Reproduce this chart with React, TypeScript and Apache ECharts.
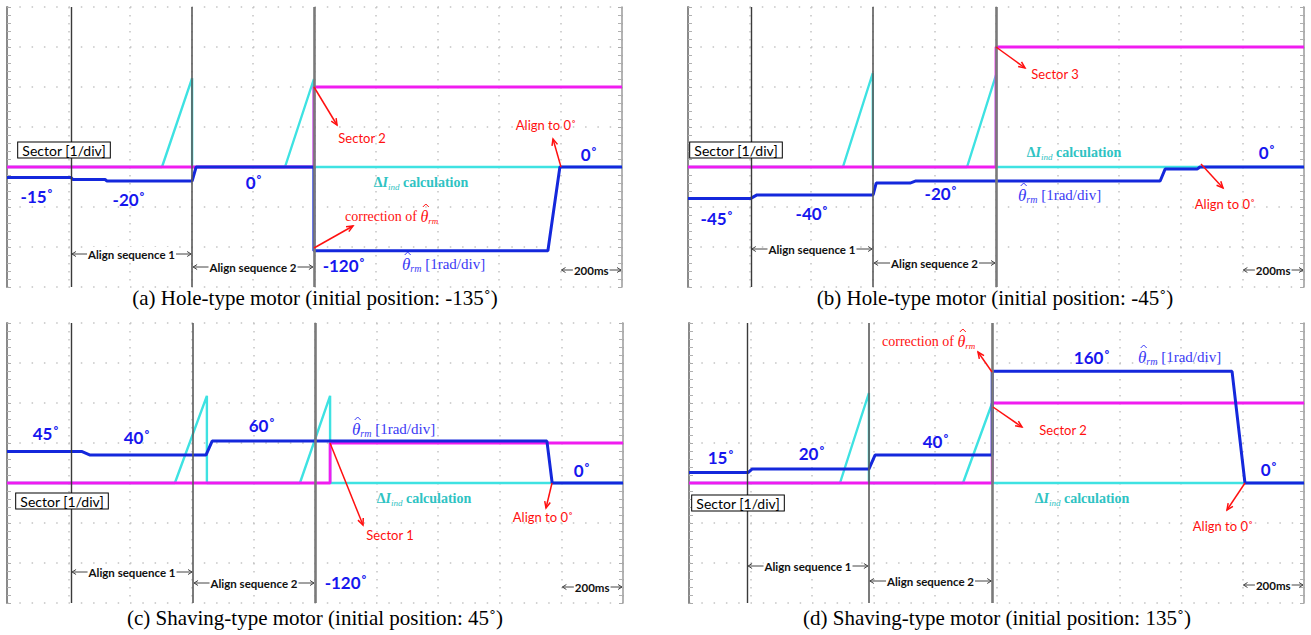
import React, { useEffect, useRef } from "react";
import * as echarts from "echarts";

// ---- scope settings ----
const TIME_SPAN_MS = 2000; // 10 div x 200 ms
const TIME_DIV_MS = 200;
const DIV_BOTTOM = -3;
const DIV_TOP = 4;
const RAD_PER_DIV = 1;

const captions = [
  "(a) Hole-type motor (initial position: -135˚)",
  "(b) Hole-type motor (initial position: -45˚)",
  "(c) Shaving-type motor (initial position: 45˚)",
  "(d) Shaving-type motor (initial position: 135˚)",
];

// cursor markers [ms]
const cursorsA = [208, 602, 998];
const cursorsB = [204, 601, 1000];
const cursorsC = [208, 604, 1000];
const cursorsD = [189, 585, 986];

// Sector trace [1/div]
const sectorA = [[0, 0], [998, 0], [998, 2], [2000, 2]];
const sectorB = [[0, 0], [1000, 0], [1000, 3], [2000, 3]];
const sectorC = [[0, 0], [1049, 0], [1049, 1], [2000, 1]];
const sectorD = [[0, 0], [986, 0], [986, 2], [2000, 2]];

// ΔI_ind calculation trace [div]
const deltaIA = [[0, 0], [504, 0], [602, 2.22], [602, 0], [904, 0], [998, 2.2], [998, 0], [2000, 0]];
const deltaIB = [[0, 0], [503, 0], [600, 2.35], [600, 0], [906, 0], [1000, 2.3], [1000, 0], [2000, 0]];
const deltaIC = [[0, 0], [545, 0], [649, 2.18], [649, 0], [951, 0], [1049, 2.18], [1049, 0], [2000, 0]];
const deltaID = [[0, 0], [491, 0], [585, 2.25], [585, 0], [891, 0], [986, 2.0], [986, 0], [2000, 0]];

// estimated rotor position trace [deg], shown at 1 rad/div
const thetaA = [[0, -15], [208, -15], [214, -18], [319, -18], [325, -20], [602, -20], [615, 0], [998, 0], [998, -120], [1759, -120], [1798, 0], [2000, 0]];
const thetaB = [[0, -45], [204, -45], [224, -40], [601, -40], [611, -23], [721, -23], [740, -20], [1533, -20], [1549, -3], [1653, -3], [1662, 0], [2000, 0]];
const thetaC = [[0, 45], [244, 45], [270, 40], [646, 40], [666, 60], [1753, 60], [1770, 0], [2000, 0]];
const thetaD = [[0, 15], [192, 15], [205, 20], [585, 20], [605, 40], [986, 40], [986, 160], [1766, 160], [1808, 0], [2000, 0]];

const cursors = [cursorsA, cursorsB, cursorsC, cursorsD];
const sectors = [sectorA, sectorB, sectorC, sectorD];
const deltaIs = [deltaIA, deltaIB, deltaIC, deltaID];
const thetas = [thetaA, thetaB, thetaC, thetaD];

// ---- layout ----
const PANELS = [
  { left: 7, top: 7, width: 615, height: 280, capX: 315, capY: 298, seqY: [254, 267], msY: 270 },
  { left: 688, top: 7, width: 616, height: 280, capX: 995, capY: 298, seqY: [249, 263], msY: 270 },
  { left: 7, top: 323, width: 616, height: 280, capX: 315, capY: 618, seqY: [572, 583], msY: 587 },
  { left: 689, top: 323, width: 615, height: 280, capX: 997, capY: 618, seqY: [566, 581], msY: 585 },
];

const C_CYAN = "#3ee2e2";
const C_MAG = "#f01cf0";
const C_BLUE = "#1428dc";
const C_BLUE_TXT = "#1616ee";
const C_THETA_TXT = "#3a3af5";
const C_RED = "#ff1010";
const C_TEAL_TXT = "#2fc3c3";
const SANS = "Lato, 'Open Sans', sans-serif";
const SERIF = "'Liberation Serif', 'DejaVu Serif', serif";

// degree value labels [panel, text, cx, cy]
const degreeLabels: [number, string, number, number][] = [
  [0, "-15˚", 37, 196], [0, "-20˚", 129, 199], [0, "0˚", 254, 182], [0, "-120˚", 344, 265], [0, "0˚", 589, 154],
  [1, "-45˚", 717, 218], [1, "-40˚", 812, 213], [1, "-20˚", 941, 193], [1, "0˚", 1267, 152],
  [2, "45˚", 46, 433], [2, "40˚", 137, 437], [2, "60˚", 262, 425], [2, "0˚", 582, 470], [2, "-120˚", 346, 582],
  [3, "15˚", 721, 457], [3, "20˚", 812, 453], [3, "40˚", 936, 441], [3, "160˚", 1092, 357], [3, "0˚", 1269, 469],
];

const sectorBoxes: [number, number][] = [[64, 150], [736, 150], [62, 501], [738, 503]];
// left edge, centre line
const thetaLabels: [number, number][] = [[402, 264], [1018, 195], [352, 429], [1138, 357]];
const deltaLabels: [number, number][] = [[421, 182], [1074, 152], [424, 498], [1082, 498]];
const correctionLabels: [number, number][] = [[345, 216], [882, 341]];

// red callouts: text, text centre, arrow from, arrow to
const callouts: [string, number, number, number, number, number, number][] = [
  ["Sector 2", 362, 138, 314, 87, 337, 125],
  ["Align to 0˚", 546, 125, 561, 167, 553, 139],
  ["Sector 3", 1055, 74, 996, 47, 1025, 68],
  ["Align to 0˚", 1225, 204, 1201, 164, 1223, 188],
  ["Sector 1", 390, 535, 330, 443, 363, 525],
  ["Align to 0˚", 543, 517, 552, 483, 546, 508],
  ["Sector 2", 1063, 430, 993, 407, 1022, 427],
  ["Align to 0˚", 1223, 526, 1245, 483, 1227, 510],
];
const correctionArrows: [number, number, number, number][] = [
  [314, 248, 353, 226],
  [992, 372, 978, 352],
];

let measureCtx: CanvasRenderingContext2D | null = null;
function measure(text: string, font: string) {
  if (!measureCtx) measureCtx = document.createElement("canvas").getContext("2d");
  if (!measureCtx) return text.length * 7;
  measureCtx.font = font;
  return measureCtx.measureText(text).width;
}

function arrow(x1: number, y1: number, x2: number, y2: number, color: string, w = 1.5, head = 7) {
  const ang = Math.atan2(y2 - y1, x2 - x1);
  const a1 = ang + Math.PI - 0.42;
  const a2 = ang + Math.PI + 0.42;
  return [
    { type: "line", z: 50, shape: { x1, y1, x2, y2 }, style: { stroke: color, lineWidth: w } },
    {
      type: "polyline",
      z: 50,
      shape: {
        points: [
          [x2 + head * Math.cos(a1), y2 + head * Math.sin(a1)],
          [x2, y2],
          [x2 + head * Math.cos(a2), y2 + head * Math.sin(a2)],
        ],
      },
      style: { stroke: color, lineWidth: w, fill: null },
    },
  ];
}

function span(x1: number, x2: number, y: number, label: string) {
  const col = "#444";
  const h = 4;
  const a = x1 + 1;
  const b = x2 - 1;
  return [
    { type: "line", z: 40, shape: { x1: a, y1: y, x2: b, y2: y }, style: { stroke: col, lineWidth: 1 } },
    { type: "polyline", z: 40, shape: { points: [[a + h, y - 2.5], [a, y], [a + h, y + 2.5]] }, style: { stroke: col, lineWidth: 1, fill: null } },
    { type: "polyline", z: 40, shape: { points: [[b - h, y - 2.5], [b, y], [b - h, y + 2.5]] }, style: { stroke: col, lineWidth: 1, fill: null } },
    {
      type: "text",
      z: 41,
      x: (a + b) / 2,
      y,
      style: {
        text: label, fontFamily: SANS, fontSize: 11.5, fontWeight: "bold", fill: "#111",
        align: "center", verticalAlign: "middle", backgroundColor: "#fff", padding: [1, 1],
      },
    },
  ];
}

function centered(x: number, y: number, style: any) {
  return { type: "text", z: 60, x, y, style: { align: "center", verticalAlign: "middle", ...style } };
}

// θ̂_rm with an optional lead-in text and trailing text, laid out from a left edge
function thetaHat(left: number, y: number, size: number, color: string, lead: string, tail: string) {
  const leadW = lead ? measure(lead, `${size}px 'Liberation Serif'`) : 0;
  const thW = measure("θ", `italic ${size + 2}px 'Liberation Serif'`);
  const rich = {
    n: { fontFamily: SERIF, fontSize: size, fill: color, lineHeight: 18, verticalAlign: "middle" },
    t: { fontFamily: SERIF, fontStyle: "italic", fontSize: size + 2, fill: color, lineHeight: 18, verticalAlign: "middle" },
    s: { fontFamily: SERIF, fontStyle: "italic", fontSize: size - 5, fill: color, lineHeight: 10, verticalAlign: "bottom" },
  };
  const text = (lead ? `{n|${lead}}` : "") + "{t|θ}{s|rm}" + (tail ? `{n|${tail}}` : "");
  const cx = left + leadW + thW / 2 + 1.5;
  return [
    { type: "text", z: 60, x: left, y, style: { text, rich, align: "left", verticalAlign: "middle" } },
    {
      type: "polyline", z: 61,
      shape: { points: [[cx - 3, y - 9], [cx, y - 12], [cx + 3, y - 9]] },
      style: { stroke: color, lineWidth: 1, fill: null },
    },
  ];
}

export default function App() {
  const ref = useRef<HTMLDivElement>(null);

  useEffect(() => {
    if (!ref.current) return;
    const chart = echarts.init(ref.current, undefined, { renderer: "svg" });
    const toDiv = (deg: number) => (deg * Math.PI) / 180 / RAD_PER_DIV;

    const grid: any[] = [];
    const xAxis: any[] = [];
    const yAxis: any[] = [];
    const series: any[] = [];
    const cursorStyles = [
      { color: "#3a3a3a", width: 1.4 },
      { color: "#5a5a5a", width: 1.6 },
      { color: "#7a7a7a", width: 2.6 },
    ];

    PANELS.forEach((p, i) => {
      grid.push({ left: p.left, top: p.top, width: p.width, height: p.height, containLabel: false });
      xAxis.push({
        gridIndex: i, type: "value", min: 0, max: TIME_SPAN_MS, interval: TIME_DIV_MS,
        axisLine: { show: false }, axisTick: { show: false }, axisLabel: { show: false },
        splitLine: { show: true, lineStyle: { color: "#c4c4c4", width: 1.5, type: [1.5, 6.5] } },
      });
      const yBase = {
        gridIndex: i, type: "value", min: DIV_BOTTOM, max: DIV_TOP, interval: 1,
        axisLabel: { show: false },
        axisTick: { show: true, inside: true, length: 4, lineStyle: { color: "#aaa" } },
        minorTick: { show: true, splitNumber: 5, length: 4, lineStyle: { color: "#b0b0b0" } },
      };
      yAxis.push({
        ...yBase, position: "left",
        axisLine: { show: true, onZero: false, lineStyle: { color: "#8a8a8a", width: 2 } },
        splitLine: { show: true, lineStyle: { color: "#c4c4c4", width: 1.5, type: [1.5, 10.8] } },
      });
      yAxis.push({
        ...yBase, position: "right",
        axisLine: { show: true, onZero: false, lineStyle: { color: "#9a9a9a", width: 1.5 } },
        splitLine: { show: false },
      });

      series.push({
        type: "line", name: "ΔI_ind", xAxisIndex: i, yAxisIndex: 2 * i,
        data: deltaIs[i], showSymbol: false, symbol: "none",
        lineStyle: { color: C_CYAN, width: 2.4 }, z: 2,
        markLine: {
          silent: true, symbol: ["none", "none"], label: { show: false },
          data: cursors[i].map((c, k) => ({ xAxis: c, lineStyle: { type: "solid", ...cursorStyles[k] } })),
        },
      });
      series.push({
        type: "line", name: "Sector", xAxisIndex: i, yAxisIndex: 2 * i,
        data: sectors[i], showSymbol: false, symbol: "none",
        lineStyle: { color: C_MAG, width: 2.8 }, z: 3,
      });
      series.push({
        type: "line", name: "theta", xAxisIndex: i, yAxisIndex: 2 * i,
        data: thetas[i].map(([t, d]) => [t, toDiv(d)]), showSymbol: false, symbol: "none",
        lineStyle: { color: C_BLUE, width: 3 }, z: 4,
      });
    });

    chart.setOption({ animation: false, backgroundColor: "#fff", grid, xAxis, yAxis, series });

    const xPx = (i: number, v: number) => chart.convertToPixel({ xAxisIndex: i } as any, v) as number;
    const graphics: any[] = [];

    PANELS.forEach((p, i) => {
      const c = cursors[i];
      graphics.push(...span(xPx(i, c[0]), xPx(i, c[1]), p.seqY[0], "Align sequence 1"));
      graphics.push(...span(xPx(i, c[1]), xPx(i, c[2]), p.seqY[1], "Align sequence 2"));
      graphics.push(...span(xPx(i, TIME_SPAN_MS - TIME_DIV_MS), xPx(i, TIME_SPAN_MS), p.msY, "200ms"));
      graphics.push(centered(p.capX, p.capY, { text: captions[i], fontFamily: SERIF, fontSize: 21, fill: "#000" }));
    });

    sectorBoxes.forEach(([x, y]) =>
      graphics.push(centered(x, y, {
        text: "Sector [1/div]", fontFamily: SANS, fontSize: 14, fill: "#000",
        backgroundColor: "#fff", borderColor: "#000", borderWidth: 1, padding: [1, 4, 0, 4],
      }))
    );

    degreeLabels.forEach(([, t, x, y]) =>
      graphics.push(centered(x, y, { text: t, fontFamily: SANS, fontSize: 17, fontWeight: "bold", fill: C_BLUE_TXT }))
    );

    thetaLabels.forEach(([x, y]) => graphics.push(...thetaHat(x, y, 15, C_THETA_TXT, "", " [1rad/div]")));

    deltaLabels.forEach(([x, y]) =>
      graphics.push(centered(x, y, {
        text: "{d|Δ}{i|I}{s|ind}{n| calculation}",
        rich: {
          d: { fontFamily: SERIF, fontWeight: "bold", fontSize: 14, fill: C_TEAL_TXT, lineHeight: 18 },
          i: { fontFamily: SERIF, fontWeight: "bold", fontStyle: "italic", fontSize: 14, fill: C_TEAL_TXT, lineHeight: 18 },
          s: { fontFamily: SERIF, fontStyle: "italic", fontSize: 9, fill: C_TEAL_TXT, lineHeight: 10, verticalAlign: "bottom" },
          n: { fontFamily: SERIF, fontWeight: "bold", fontSize: 14, fill: C_TEAL_TXT, lineHeight: 18 },
        },
      }))
    );

    correctionLabels.forEach(([x, y]) => graphics.push(...thetaHat(x, y, 14, C_RED, "correction of ", "")));

    callouts.forEach(([t, tx, ty, x1, y1, x2, y2]) => {
      graphics.push(centered(tx, ty, { text: t, fontFamily: SANS, fontSize: 13, fill: C_RED }));
      graphics.push(...arrow(x1, y1, x2, y2, C_RED));
    });
    correctionArrows.forEach(([x1, y1, x2, y2]) => graphics.push(...arrow(x1, y1, x2, y2, C_RED)));

    chart.setOption({ graphic: graphics });

    return () => chart.dispose();
  }, []);

  return (
    <div
      ref={ref}
      style={{ position: "absolute", left: 0, top: 0, width: 1311, height: 635, background: "#fff" }}
    />
  );
}
